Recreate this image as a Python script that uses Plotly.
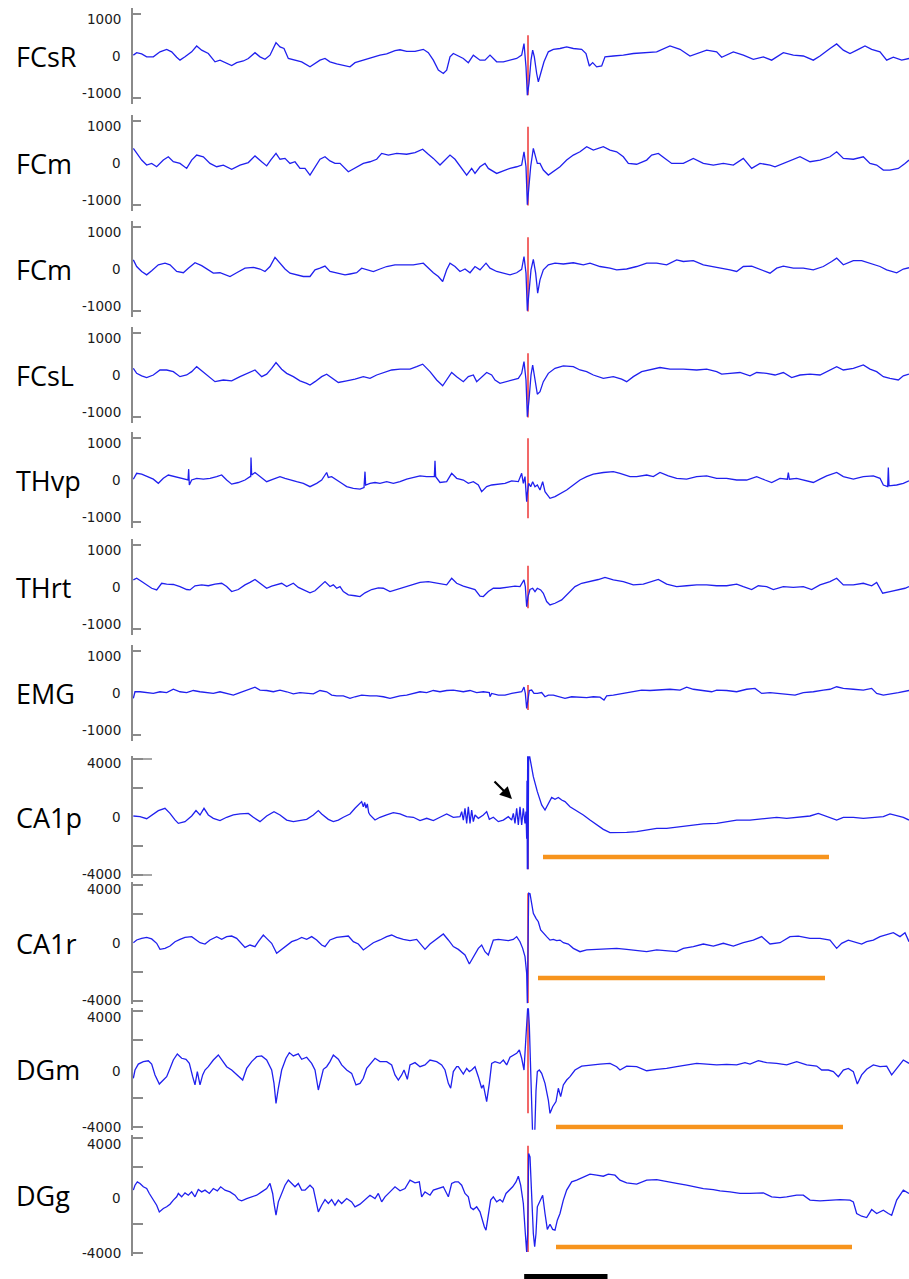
import plotly.graph_objects as go

# ---------------------------------------------------------------------------
# Recording data: (time in ms, amplitude in uV) samples for each channel
# ---------------------------------------------------------------------------
CHANNELS = ["FCsR", "FCm", "FCm", "FCsL", "THvp", "THrt", "EMG",
            "CA1p", "CA1r", "DGm", "DGg"]

STIM_T = 6336  # stimulus onset (ms)

FCSR = [(1600,20),(1640,80),(1700,50),(1760,-20),(1840,-20),(1920,100),(2000,160),(2060,100),(2120,-30),(2160,-100),
        (2220,-20),(2300,100),(2360,240),(2420,140),(2500,60),(2580,-140),(2640,-100),(2700,-160),(2780,-230),(2840,-160),
        (2920,-120),(2980,-60),(3060,80),(3120,-20),(3180,-80),(3240,20),(3312,320),(3360,220),(3408,180),(3460,-60),
        (3540,-100),(3620,-140),(3720,-260),(3780,-180),(3840,-100),(3900,-60),(3960,-140),(4040,-190),(4120,-220),(4200,-260),
        (4260,-160),(4340,-110),(4400,-80),(4480,-30),(4560,20),(4640,50),(4740,130),(4800,150),(4880,110),(4980,110),
        (5080,160),(5140,80),(5200,-100),(5260,-340),(5320,-420),(5360,-340),(5400,-20),(5440,60),(5520,-20),
        (5560,-60),(5620,-160),(5680,20),(5760,-100),(5820,-100),(5880,20),(5960,-140),(6040,-140),(6120,-100),(6200,-60),
        (6260,20),(6288,300),(6312,-260),(6328,-940),(6348,-660),(6372,-100),(6392,140),(6412,-20),(6440,-420),(6460,-620),
        (6488,-420),(6528,-140),(6580,100),(6640,160),(6720,180),(6800,220),(6880,180),(6980,160),(7032,60),(7072,-240),
        (7112,-160),(7160,-260),(7220,-240),(7260,-20),(7360,0),(7480,20),(7600,60),(7760,80),(7880,100),(8040,240),
        (8160,160),(8280,0),(8360,60),(8480,140),(8600,100),(8660,-30),(8800,100),(8920,20),(9040,-80),(9160,-20),
        (9260,-100),(9360,20),(9400,80),(9520,20),(9640,0),(9760,-100),(9840,0),(9960,180),(10040,290),(10120,140),
        (10200,60),(10300,160),(10380,240),(10460,160),(10560,100),(10640,-100),(10720,-30),(10820,-100),(10908,-60)]

FCM_A = [(1600,350),(1640,230),(1700,70),(1760,-50),(1820,-10),(1880,-90),(1960,70),(2020,150),(2080,30),(2160,-10),
         (2240,-130),(2300,70),(2360,190),(2440,150),(2520,-10),(2600,-90),(2680,-50),(2780,-150),(2880,-50),(2980,10),
         (3060,170),(3140,30),(3200,-70),(3248,70),(3312,230),(3360,90),(3420,110),(3480,-10),(3540,30),(3600,-130),
         (3660,-130),(3720,-290),(3780,-90),(3840,90),(3900,150),(3960,50),(4020,-10),(4080,-10),(4180,-210),(4260,-130),
         (4360,-10),(4440,30),(4520,90),(4580,230),(4660,190),(4760,230),(4880,210),(4980,250),(5072,330),(5140,210),
         (5200,110),(5280,-50),(5340,70),(5400,190),(5460,90),
         (5560,-170),(5600,-290),(5660,-130),(5700,-250),(5760,-90),(5820,-10),(5860,-130),(5920,-210),(5960,-250),(6040,-190),
         (6120,-130),(6200,-90),(6260,-50),(6288,270),(6312,-90),(6328,-1000),(6344,-570),(6368,-90),(6400,350),(6424,150),
         (6448,-10),(6480,-10),(6520,-170),(6580,-290),(6640,-210),(6720,-90),(6800,70),(6880,190),(6960,270),(7040,390),
         (7120,310),(7240,390),(7320,310),(7400,270),(7480,150),(7540,-10),(7640,-30),(7760,70),(7820,190),(7900,230),
         (7980,110),(8060,-10),(8200,-10),(8320,110),(8440,-10),(8560,-50),(8680,-10),(8800,-50),(8920,110),(9020,-130),
         (9120,-10),(9240,-50),(9300,-90),(9400,-10),(9520,70),(9600,150),(9720,30),(9840,70),(9960,150),(10040,270),
         (10120,110),(10240,90),(10360,150),(10440,-10),(10520,-50),(10600,-170),(10680,-170),(10780,-130),(10860,-10),(10908,70)]

FCM_B = [(1600,220),(1640,60),(1700,-60),(1760,-140),(1820,-40),(1900,100),(1980,140),(2040,100),(2120,-60),(2200,-90),
         (2260,20),(2340,150),(2420,80),(2500,-20),(2560,-100),(2640,-90),(2760,-180),(2840,-90),(2940,20),(3040,40),
         (3120,0),(3180,-60),(3240,60),(3300,280),(3360,140),(3420,0),(3480,-100),(3560,-140),(3640,-180),(3720,-180),
         (3780,-20),(3840,20),(3900,70),(3960,-60),(4040,-100),(4140,-140),(4200,-120),(4280,-90),(4340,20),(4400,-20),
         (4480,-60),(4560,0),(4640,60),(4740,100),(4840,100),(4960,100),(5080,140),(5140,20),(5200,-90),(5260,-180),
         (5312,-300),(5360,-20),(5400,140),(5460,60),
         (5520,-60),(5580,0),(5640,-90),(5700,60),(5760,-20),(5832,140),(5880,20),(5960,-60),(6040,-100),(6120,-140),
         (6200,-90),(6260,-10),(6288,300),(6312,-100),(6328,-1000),(6348,-580),(6372,-20),(6400,230),(6428,-100),(6452,-580),
         (6480,-260),(6520,-20),(6580,100),(6660,140),(6760,120),(6880,150),(7000,100),(7080,140),(7200,60),(7320,20),
         (7400,-20),(7520,0),(7640,60),(7760,140),(7880,140),(8000,100),(8120,220),(8200,180),(8320,200),(8440,100),
         (8560,60),(8660,20),(8760,-20),(8840,-60),(8920,60),(9020,70),(9120,0),(9240,-100),(9320,20),(9400,70),
         (9520,20),(9640,20),(9760,-20),(9880,60),(9980,180),(10040,260),(10120,100),(10240,200),(10340,200),(10440,140),
         (10560,60),(10640,-20),(10760,-90),(10840,0),(10908,30)]

FCSL = [(1600,160),(1640,40),(1700,-20),(1760,-60),(1840,0),(1920,120),(2000,120),(2080,80),(2160,-40),(2240,0),
        (2300,80),(2360,200),(2420,100),(2500,-40),(2580,-160),(2680,-120),(2780,-140),(2880,-40),(2980,40),(3060,120),
        (3140,-40),(3200,20),(3260,160),(3312,300),(3380,140),(3440,40),(3520,-40),(3600,-140),(3680,-200),(3720,-240),
        (3780,-160),(3860,-40),(3920,20),(4000,-100),(4060,-180),(4160,-140),(4260,-100),(4360,-40),(4440,-80),(4520,0),
        (4600,60),(4700,120),(4800,140),(4920,140),(5000,200),(5072,260),(5160,80),(5240,-120),(5312,-260),(5360,-120),
        (5420,60),(5480,-40),
        (5520,-100),(5560,-160),(5620,-40),(5680,0),(5720,-160),(5780,-40),(5840,60),(5900,0),(5940,-120),(6000,-200),
        (6080,-160),(6160,-120),(6220,-80),(6260,40),(6288,320),(6312,-120),(6328,-1000),(6348,-600),(6372,0),(6392,240),
        (6420,-120),(6448,-460),(6480,-400),(6520,-160),(6580,40),(6660,160),(6760,220),(6880,200),(6960,120),(7040,80),
        (7120,0),(7240,-80),(7360,-40),(7460,-100),(7520,-160),(7600,-40),(7700,80),(7800,120),(7920,180),(8040,140),
        (8200,140),(8360,120),(8480,140),(8600,80),(8660,20),(8760,40),(8880,60),(9000,-20),(9080,60),(9200,40),
        (9300,0),(9400,60),(9500,-60),(9600,0),(9720,20),(9840,0),(9960,120),(10040,200),(10120,120),(10240,160),
        (10360,240),(10440,140),(10520,80),(10600,-40),(10680,-80),(10780,-120),(10840,-20),(10908,20)]

THVP = [(1600,20),(1640,160),(1700,140),(1760,80),(1840,20),(1900,-80),(1960,40),(2020,120),(2100,80),(2180,40),
        (2240,0),(2256,0),(2264,260),(2272,-120),(2300,0),(2360,40),(2440,20),(2520,40),(2600,80),(2660,120),
        (2720,0),(2780,-100),(2860,-60),(2940,0),(3000,80),(3008,80),(3012,540),(3020,120),(3060,180),(3120,80),
        (3200,-40),(3280,20),(3360,80),(3420,40),(3480,0),(3560,-40),(3640,-80),(3720,-160),(3800,-80),(3860,0),
        (3920,180),(3940,60),(3980,80),(4020,20),(4060,-20),(4100,-80),(4160,-160),(4240,-200),(4320,-220),(4368,-180),
        (4380,200),(4388,-120),(4440,-80),(4500,-60),(4560,-80),(4640,-40),(4720,-80),(4800,-40),(4880,20),(4960,60),
        (5040,100),(5120,80),(5212,80),(5220,460),(5228,80),(5280,-60),(5360,-40),(5420,160),(5480,40),
        (5560,0),(5620,-80),(5680,-40),(5740,-120),(5780,-280),(5840,-160),(5900,-120),(5980,-100),(6060,-80),(6140,-20),
        (6220,-40),(6260,160),(6280,-80),(6300,80),(6320,-520),(6328,-320),(6344,-80),(6368,-160),(6392,-40),(6420,-160),
        (6448,-120),(6480,-240),(6512,-40),(6540,-280),(6600,-440),(6660,-400),(6720,-340),(6800,-240),(6880,-120),(6960,0),
        (7040,80),(7120,140),(7240,180),(7360,200),(7440,160),(7560,80),(7640,80),(7760,120),(7840,80),(7920,180),
        (8020,100),(8120,40),(8240,20),(8360,80),(8480,100),(8600,40),(8720,40),(8840,0),(8960,0),(9080,80),
        (9180,0),(9260,-60),(9360,40),(9448,20),(9460,180),(9472,20),(9560,40),(9680,-20),(9760,-60),(9840,20),
        (9920,100),(10040,180),(10120,80),(10240,20),(10360,80),(10480,100),(10560,40),(10600,-120),(10652,-160),(10660,300),
        (10668,-140),(10760,-120),(10840,-80),(10908,-20)]

THRT = [(1600,170),(1640,210),(1700,130),(1760,50),(1820,-30),(1880,-70),(1940,90),(2000,70),(2080,60),(2160,10),
        (2240,-60),(2280,-70),(2340,30),(2420,50),(2500,30),(2580,70),(2660,90),(2720,10),(2780,-110),(2860,-60),
        (2940,50),(3000,110),(3060,180),(3120,90),(3200,-30),(3260,20),(3320,50),(3380,90),(3440,10),(3520,90),
        (3580,-10),(3640,-70),(3720,-140),(3780,-90),(3840,10),(3900,130),(3960,10),(4000,50),(4040,-30),(4080,10),
        (4120,-110),(4180,-190),(4260,-210),(4320,-230),(4380,-140),(4460,-60),(4540,-20),(4600,-30),(4680,-110),(4760,-60),
        (4840,-10),(4940,50),(5040,110),(5140,130),(5240,90),(5320,60),(5360,50),(5420,210),(5480,90),
        (5560,20),(5640,-30),(5700,-60),(5760,-220),(5800,-230),(5860,-110),(5920,-30),(6000,-30),(6080,-10),(6180,20),
        (6240,10),(6288,170),(6304,10),(6320,-470),(6336,-230),(6360,-60),(6392,-30),(6420,-110),(6448,-30),(6488,-70),
        (6520,-150),(6560,-350),(6600,-430),(6660,-390),(6740,-310),(6820,-150),(6900,10),(6980,90),(7080,130),(7180,180),
        (7260,230),(7360,170),(7480,130),(7600,50),(7720,70),(7820,130),(7900,180),(8000,70),(8120,10),(8240,30),
        (8360,50),(8480,50),(8600,30),(8720,30),(8840,70),(8920,10),(9020,-60),(9100,30),(9200,10),(9280,-60),
        (9400,10),(9520,-10),(9640,10),(9740,-60),(9840,50),(9960,130),(10040,210),(10120,50),(10240,50),(10360,90),
        (10460,30),(10520,110),(10592,-150),(10680,-110),(10780,-70),(10860,-30),(10908,10)]

EMG = [(1600,-130),(1620,30),(1680,30),(1760,10),(1840,-10),(1920,30),(2000,10),(2080,90),(2160,30),(2240,10),
       (2320,60),(2400,30),(2480,10),(2560,-10),(2640,30),(2720,-10),(2800,-50),(2880,10),(2960,60),(3060,140),
       (3120,70),(3200,60),(3280,30),(3360,70),(3440,30),(3520,-20),(3600,10),(3680,-10),(3760,-20),(3840,60),
       (3920,30),(3980,-50),(4040,-70),(4120,-70),(4200,-130),(4260,-90),(4340,-50),(4440,-70),(4520,-70),(4600,-90),
       (4680,-130),(4740,-100),(4800,-70),(4880,-50),(4960,-10),(5040,30),(5120,10),(5200,60),(5280,30),(5360,60),
       (5440,70),
       (5560,30),(5640,60),(5720,10),(5800,30),(5872,10),(5880,-90),(5900,-10),(5980,-50),(6060,-50),(6140,-10),
       (6220,10),(6260,30),(6288,140),(6304,-10),(6320,-370),(6332,-170),(6352,60),(6380,70),(6408,-10),(6448,-10),
       (6500,10),(6540,-90),(6580,-50),(6640,-50),(6720,-90),(6780,-130),(6860,-90),(6960,-100),(7040,-110),(7120,-90),
       (7200,-100),(7248,-170),(7280,-70),(7360,-50),(7480,-10),(7600,30),(7700,70),(7800,60),(7920,70),(8040,90),
       (8160,70),(8240,140),(8320,90),(8440,60),(8540,30),(8600,70),(8720,60),(8840,30),(8960,90),(9060,110),
       (9140,-10),(9240,10),(9360,-10),(9440,-20),(9540,-50),(9640,10),(9760,30),(9880,70),(9960,90),(10040,150),
       (10120,110),(10240,90),(10360,70),(10460,110),(10520,-10),(10600,-50),(10680,-30),(10780,10),(10908,60)]

CA1P = [(1600,70),(1680,20),(1760,-120),(1820,140),(1900,440),(1980,600),(2040,250),(2100,-200),(2140,-440),(2220,-320),
        (2300,70),(2352,440),(2400,140),(2448,600),(2500,140),(2560,-90),(2640,-250),(2720,-20),(2800,140),(2880,210),
        (2980,250),(3040,-20),(3120,-320),(3200,70),(3288,370),(3360,140),(3440,-210),(3520,-320),(3600,-250),(3680,-160),
        (3760,140),(3820,440),(3860,210),(3900,20),(3940,-160),(4000,-320),(4060,-210),(4120,-20),(4200,210),(4260,600),
        (4300,850),(4340,1060),(4360,700),(4376,1000),(4392,620),(4408,900),(4424,300),(4440,140),(4500,-210),(4560,-20),
        (4640,140),(4720,300),(4800,210),(4880,20),(4960,-20),(5040,-250),(5120,-90),(5200,-250),(5280,-20),(5360,210),
        (5440,-20),(5520,20),
        (5540,370),(5560,-210),(5580,600),(5600,-440),(5620,710),(5640,-440),(5660,480),(5680,-320),(5700,140),(5740,-90),
        (5800,140),(5840,370),(5872,-160),(5920,-20),(5980,-320),(6040,-210),(6100,20),(6140,-210),(6160,250),(6180,-440),
        (6200,600),(6220,-550),(6240,710),(6260,-550),(6280,600),(6300,-440),(6312,370),(6320,-1500),(6324,2500),(6328,-3600),
        (6332,4600),(6336,-3600),(6344,4600),(6360,4050),(6400,2780),(6448,1750),(6500,830),(6540,480),(6580,940),(6620,1350),
        (6660,1220),(6700,1350),(6740,1170),(6780,1060),(6840,710),(6920,440),(7000,140),(7080,-210),(7160,-550),(7240,-850),
        (7320,-1080),(7400,-1080),(7520,-1060),(7640,-1010),(7760,-900),(7880,-780),(8000,-780),(8120,-710),(8200,-620),(8320,-550),
        (8440,-480),(8600,-440),(8720,-320),(8840,-210),(9000,-210),(9160,-90),(9320,-20),(9440,-90),(9600,-20),(9720,70),
        (9820,250),(9920,20),(10040,-210),(10120,-20),(10240,-20),(10360,-90),(10480,-20),(10600,20),(10680,210),(10760,70),
        (10840,-20),(10908,-210)]

CA1R = [(1600,20),(1640,210),(1700,320),(1760,390),(1820,280),(1880,-20),(1920,-440),(1980,-370),(2040,-210),(2100,90),
        (2160,250),(2220,390),(2300,440),(2360,210),(2400,20),(2460,-70),(2520,210),(2600,440),(2660,250),(2720,440),
        (2780,480),(2840,320),(2900,-70),(2940,-300),(3000,-140),(3060,-250),(3100,90),(3160,550),(3200,320),(3260,-20),
        (3320,-710),(3380,-440),(3440,-140),(3500,90),(3560,210),(3620,390),(3680,250),(3740,440),(3800,210),(3860,-140),
        (3900,-250),(3960,210),(4040,390),(4120,440),(4180,480),(4240,90),(4300,-70),(4360,-480),(4420,-250),(4480,20),
        (4560,210),(4640,440),(4700,550),(4760,390),(4840,250),(4920,160),(5000,250),(5040,-20),(5100,-440),(5160,-70),
        (5220,210),(5280,480),(5320,620),(5380,210),(5440,-250),(5500,-440),
        (5580,-830),(5632,-1450),(5660,-1170),(5700,-710),(5740,-370),(5780,-140),(5820,-600),(5860,-830),(5920,200),(5980,250),
        (6040,200),(6100,160),(6160,250),(6200,440),(6240,90),(6272,-370),(6300,-940),(6312,-1450),(6320,-2090),(6328,-4160),
        (6336,200),(6344,3440),(6360,3400),(6380,2740),(6400,2050),(6432,1700),(6460,1470),(6488,900),(6520,670),(6560,440),
        (6600,200),(6640,250),(6680,160),(6720,200),(6760,20),(6820,-70),(6880,-370),(6960,-600),(7040,-480),(7160,-440),
        (7280,-370),(7400,-370),(7520,-440),(7640,-530),(7760,-600),(7880,-480),(8000,-530),(8120,-600),(8200,-370),(8320,-250),
        (8440,-70),(8560,-210),(8680,-20),(8800,-210),(8920,20),(9040,200),(9140,440),(9240,-70),(9360,20),(9480,440),
        (9580,480),(9720,320),(9840,320),(9960,200),(10040,-370),(10100,-20),(10180,200),(10260,90),(10340,-70),(10400,90),
        (10480,200),(10560,440),(10640,550),(10720,710),(10800,440),(10860,710),(10908,90)]

DGM = [(1600,-640),(1620,-70),(1660,340),(1720,510),(1780,570),(1820,340),(1860,-410),(1912,-1040),(1960,-760),(2000,-530),
       (2040,40),(2080,620),(2128,1040),(2180,740),(2232,670),(2272,390),(2312,-530),(2340,-1100),(2368,-180),(2400,-1100),
       (2432,-410),(2460,-70),(2500,160),(2560,620),(2620,970),(2672,510),(2720,160),(2780,-70),(2840,-410),(2912,-760),
       (2960,40),(3020,510),(3080,850),(3140,900),(3200,620),(3260,-70),(3288,-990),(3312,-2370),(3340,-1330),(3380,-70),
       (3432,740),(3472,1130),(3520,900),(3580,1040),(3620,670),(3680,810),(3740,390),(3780,-70),(3820,-1450),(3848,-760),
       (3880,-20),(3920,160),(3960,510),(4000,970),(4060,670),(4100,280),(4160,-70),(4220,-300),(4272,-1100),(4320,-990),
       (4360,-640),(4400,40),(4460,510),(4500,740),(4560,510),(4640,510),(4700,280),(4740,-410),(4780,-760),(4820,-410),
       (4848,-70),(4888,-710),(4920,280),(4980,440),(5040,160),(5100,280),(5160,620),(5240,510),(5300,280),(5340,-70),
       (5380,-990),(5408,-1330),(5440,-180),(5480,160),
       (5500,160),(5560,-350),(5600,40),(5632,-180),(5660,-70),(5700,160),(5740,-530),(5780,-1330),(5800,-1100),(5840,-2250),
       (5872,-990),(5900,390),(5940,510),(6000,390),(6040,620),(6080,280),(6120,810),(6160,970),(6200,1080),(6232,1310),
       (6260,740),(6288,-70),(6304,1500),(6320,3600),(6336,4600),(6352,3000),(6372,-1000),(6392,-4600),(6416,-4600),(6432,-1500),
       (6448,-180),(6472,-70),(6500,-300),(6540,-990),(6580,-2140),(6600,-3060),(6632,-2600),(6672,-2250),(6700,-1330),(6728,-1910),
       (6760,-1100),(6800,-760),(6840,-530),(6900,-70),(6980,200),(7080,280),(7200,340),(7320,390),(7400,160),(7440,-70),
       (7520,200),(7640,160),(7760,-120),(7880,-20),(8000,40),(8120,160),(8240,280),(8360,390),(8480,340),(8600,280),
       (8720,320),(8840,280),(8940,440),(9000,340),(9100,570),(9200,440),(9320,390),(9440,280),(9560,510),(9680,280),
       (9800,200),(9860,-70),(9940,-70),(10000,-180),(10060,-530),(10120,-70),(10180,40),(10240,-180),(10288,-1030),(10340,-410),
       (10400,-20),(10480,280),(10560,160),(10640,200),(10700,-410),(10760,40),(10840,620),(10908,390)]

DGG = [(1600,370),(1620,710),(1648,940),(1680,830),(1720,600),(1760,480),(1792,140),(1820,-90),(1848,-320),(1880,-670),
       (1912,-1130),(1960,-900),(2000,-780),(2040,-600),(2080,-320),(2120,-90),(2140,140),(2180,-90),(2220,180),(2260,20),
       (2300,250),(2340,-90),(2380,410),(2420,250),(2460,370),(2512,140),(2560,480),(2608,320),(2648,600),(2700,370),
       (2760,250),(2820,20),(2860,-280),(2900,-370),(2960,-210),(3020,-90),(3080,20),(3140,250),(3200,480),(3240,830),
       (3272,140),(3288,-550),(3312,-1360),(3340,-440),(3380,140),(3420,710),(3460,1060),(3500,830),(3540,600),(3580,830),
       (3620,370),(3660,370),(3720,710),(3760,480),(3792,-320),(3820,-1130),(3860,-670),(3900,-280),(3940,-550),(3980,-280),
       (4020,-670),(4060,-320),(4100,-550),(4160,-210),(4220,-440),(4260,-780),(4320,-600),(4380,-320),(4440,20),(4500,-210),
       (4540,140),(4580,-440),(4620,-90),(4680,250),(4740,600),(4800,320),(4860,480),(4920,1060),(4980,870),(5032,940),
       (5060,-90),(5100,250),(5160,20),(5200,370),(5260,480),(5320,600),(5380,-90),(5420,830),(5460,940),
       (5500,940),(5540,710),(5580,140),(5620,-90),(5648,-830),(5680,-970),(5720,-780),(5760,-1130),(5792,-1820),(5812,-2160),
       (5832,-2390),(5860,-1240),(5888,-320),(5920,-90),(5960,-440),(6000,-280),(6032,-440),(6072,140),(6112,370),(6152,600),
       (6192,940),(6220,1330),(6248,710),(6280,-550),(6304,-2620),(6320,-3890),(6332,-2620),(6344,2900),(6360,2670),(6380,-320),
       (6400,-2620),(6416,-3540),(6432,-2620),(6448,-780),(6480,-320),(6512,20),(6540,-1240),(6568,-2340),(6600,-1980),(6632,-2340),
       (6660,-2390),(6688,-1700),(6720,-1240),(6760,-320),(6800,370),(6860,940),(6920,1060),(7000,1290),(7080,1470),(7160,1400),
       (7240,1330),(7300,1470),(7380,1400),(7440,1060),(7520,870),(7640,780),(7760,1060),(7880,1100),(8000,940),(8120,830),
       (8240,710),(8320,600),(8440,480),(8560,410),(8640,320),(8760,250),(8880,140),(9000,140),(9080,140),(9160,180),
       (9260,-90),(9360,-140),(9440,-90),(9560,20),(9640,20),(9720,-320),(9840,-370),(9960,-320),(10080,-280),(10200,-320),
       (10240,-440),(10280,-1240),(10340,-1430),(10400,-1520),(10460,-970),(10520,-1240),(10600,-1010),(10660,-1240),(10700,-1360),(10760,-320),
       (10840,370),(10908,140)]

TRACES = [FCSR, FCM_A, FCM_B, FCSL, THVP, THRT, EMG, CA1P, CA1R, DGM, DGG]

# Extent of the stimulus marker in each channel (uV): (low, high)
STIM_SPAN = [(-940, 500), (-1020, 870), (-1020, 760), (-1020, 520), (-920, 1000),
             (-510, 510), (-410, 190), (-3600, 4100), (-4140, 3430), (-3060, 4070), (-3890, 3430)]

# Post-stimulus suppression periods: (channel index, start ms, end ms, level uV)
SUPPRESSION = [(7, 6516, 9948, -2760), (8, 6456, 9900, -2415),
               (9, 6672, 10116, -4000), (10, 6672, 10224, -3550)]

# Time scale bar (ms)
SCALE_T0 = 6290
SCALE_LEN = 1000

# Arrow marking the pre-stimulus oscillation in CA1p (ms, uV)
ARROW_T, ARROW_V = 6144, 1240

# Y-axis ticks
SMALL_TICKS = [-1000, 1000]
LARGE_TICKS = [-4000, -2000, 2000, 4000]
SMALL_LABELS = [1000, 0, -1000]
LARGE_LABELS = [4000, 0, -4000]

# ---------------------------------------------------------------------------
# Layout geometry
# ---------------------------------------------------------------------------
W, H = 909, 1279
X_LEFT_PX = 133
T_RANGE = [1596, 10908]
ZERO_PX = [56, 163, 269, 375, 480, 587, 693, 817, 943, 1069, 1195.5]
SMALL_RANGE = [-1140, 1150]
LARGE_RANGE = [-4200, 4200]
SMALL_UV_PER_PX = 24.0
LARGE_UV_PER_PX = 69.0

BLUE = "rgb(32,32,238)"
RED = "rgb(236,40,40)"
ORANGE = "#F7941D"
AXIS_GREY = "#8a8a8a"

fig = go.Figure()
layout = dict(
    width=W, height=H,
    margin=dict(l=0, r=0, t=0, b=0),
    paper_bgcolor="white", plot_bgcolor="white",
    showlegend=False,
)
annotations = []
shapes = []

for i, (name, data) in enumerate(zip(CHANNELS, TRACES)):
    n = i + 1
    xs = "x" if n == 1 else f"x{n}"
    ys = "y" if n == 1 else f"y{n}"
    large = i >= 7
    yr = LARGE_RANGE if large else SMALL_RANGE
    upp = LARGE_UV_PER_PX if large else SMALL_UV_PER_PX
    z = ZERO_PX[i]
    top_px = z - yr[1] / upp
    bot_px = z - yr[0] / upp

    layout["xaxis" if n == 1 else f"xaxis{n}"] = dict(
        domain=[X_LEFT_PX / W, 1.0], range=T_RANGE, visible=False,
        anchor=ys, fixedrange=True,
    )
    layout["yaxis" if n == 1 else f"yaxis{n}"] = dict(
        domain=[1 - bot_px / H, 1 - top_px / H], range=yr, anchor=xs,
        showline=True, linecolor=AXIS_GREY, linewidth=1.8,
        ticks="inside", ticklen=10 if large else 8, tickwidth=1.6, tickcolor=AXIS_GREY,
        tickmode="array", tickvals=LARGE_TICKS if large else SMALL_TICKS,
        showticklabels=False, showgrid=False, zeroline=False, fixedrange=True,
    )

    lo, hi = STIM_SPAN[i]
    fig.add_trace(go.Scatter(
        x=[STIM_T, STIM_T], y=[lo, hi], mode="lines",
        line=dict(color=RED, width=1.4), xaxis=xs, yaxis=ys, hoverinfo="skip",
    ))
    fig.add_trace(go.Scatter(
        x=[p[0] for p in data], y=[p[1] for p in data], mode="lines",
        line=dict(color=BLUE, width=1.3), xaxis=xs, yaxis=ys, name=name,
    ))

    # channel name
    annotations.append(dict(
        text=name, xref="paper", x=14 / W, xanchor="left",
        yref=ys, y=0, yanchor="middle", showarrow=False,
        font=dict(family="Open Sans", size=27, color="black"),
    ))
    # tick labels, nudged slightly inward from the tick marks
    labels = LARGE_LABELS if large else SMALL_LABELS
    if not large:
        shifts = [-5, 0, 5]
    elif i < 9:
        shifts = [-4, 0, 1]
    else:
        shifts = [-6, -2, 0]
    for val, sh in zip(labels, shifts):
        annotations.append(dict(
            text=str(val), xref="paper", x=(X_LEFT_PX - 10) / W, xanchor="right",
            yref=ys, y=val, yanchor="middle", yshift=sh, showarrow=False,
            font=dict(family="DejaVu Sans", size=13.5, color="#1a1a1a"),
        ))

# the CA1p axis carries longer end caps
for lvl in (LARGE_TICKS[-1], LARGE_TICKS[0]):
    shapes.append(dict(
        type="line", xref="paper", yref="y8",
        x0=X_LEFT_PX / W, x1=(X_LEFT_PX + 19) / W, y0=lvl, y1=lvl,
        line=dict(color=AXIS_GREY, width=1.6),
    ))

for ch, t0, t1, lvl in SUPPRESSION:
    n = ch + 1
    fig.add_trace(go.Scatter(
        x=[t0, t1], y=[lvl, lvl], mode="lines",
        line=dict(color=ORANGE, width=4.5),
        xaxis=f"x{n}", yaxis=f"y{n}", hoverinfo="skip",
    ))

annotations.append(dict(
    x=ARROW_T, y=ARROW_V, xref="x8", yref="y8", text="",
    showarrow=True, arrowhead=2, arrowsize=1.1, arrowwidth=2.2,
    arrowcolor="black", ax=-19, ay=-19,
))

shapes.append(dict(
    type="line", xref="x11", yref="paper",
    x0=SCALE_T0, x1=SCALE_T0 + SCALE_LEN,
    y0=1 - 1276.5 / H, y1=1 - 1276.5 / H,
    line=dict(color="black", width=5),
))

layout["annotations"] = annotations
layout["shapes"] = shapes
fig.update_layout(**layout)
fig.write_html("out.html")
